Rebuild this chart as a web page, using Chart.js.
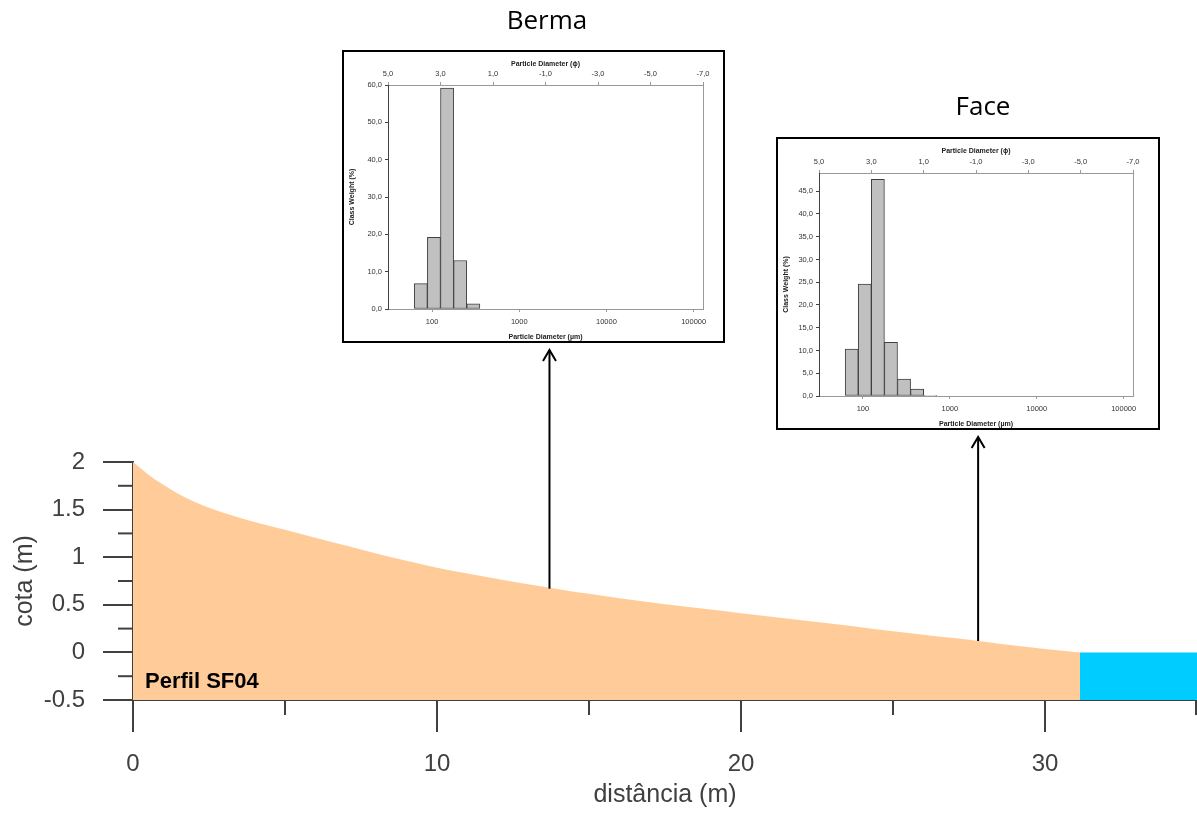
<!DOCTYPE html>
<html>
<head>
<meta charset="utf-8">
<script src="https://cdn.jsdelivr.net/npm/chart.js@4.4.1/dist/chart.umd.min.js"></script>
<style>
    html, body { margin: 0; padding: 0; background: #fff; }
    #page { position: relative; width: 1197px; height: 813px; overflow: hidden; }
    #mainChart { position: absolute; left: 0; top: 0; }
    .inset { position: absolute; box-sizing: border-box; border: 2px solid #000; background: #fff; }
    .inset canvas { display: block; }
    .title { position: absolute; width: 200px; text-align: center; font-family: "Open Sans", sans-serif; font-size: 26px; line-height: 26px; color: #000; }
    #perfil { position: absolute; left: 145px; top: 668px; font-family: "Liberation Sans", Arial, sans-serif; font-weight: bold; font-size: 22px; line-height: 26px; color: #000; }
</style>
</head>
<body>
<div id="page">
    <canvas id="mainChart" width="1197" height="813"></canvas>
    <div id="perfil">Perfil SF04</div>
    <div class="title" style="left:447px; top:6px;">Berma</div>
    <div class="title" style="left:883px; top:92px;">Face</div>
    <div class="inset" id="bermaBox" style="left:342px; top:50px; width:383px; height:293px;">
        <canvas id="bermaChart" width="379" height="289"></canvas>
    </div>
    <div class="inset" id="faceBox" style="left:776px; top:137px; width:384px; height:293px;">
        <canvas id="faceChart" width="380" height="289"></canvas>
    </div>
</div>
<script>
// Beach profile (distance in m, elevation in m)
const profileDist = [0, 0.5, 1, 1.5, 2, 2.5, 3, 4, 5, 6, 7, 8, 9, 10, 11, 12, 13, 14, 15, 16, 17, 18, 19, 20, 21, 22, 23, 24, 25, 26, 27, 28, 29, 30, 31.15];
const profileCota = [2.0, 1.87, 1.76, 1.665, 1.585, 1.52, 1.465, 1.37, 1.288, 1.205, 1.122, 1.04, 0.962, 0.89, 0.83, 0.772, 0.717, 0.664, 0.615, 0.57, 0.528, 0.488, 0.45, 0.412, 0.375, 0.338, 0.30, 0.262, 0.222, 0.185, 0.15, 0.112, 0.072, 0.035, 0.0];
const waterDist = [31.15, 35];
const waterCota = [0, 0];

// Main chart ticks
const distMajor = [0, 10, 20, 30];
const distMinor = [5, 15, 25, 35];
const cotaMajor = [-0.5, 0, 0.5, 1, 1.5, 2];
const cotaMinor = [-0.25, 0.25, 0.75, 1.25, 1.75];

// Grain size histograms (class centres in phi, weight in %)
const phiBins = [3.75, 3.25, 2.75, 2.25, 1.75, 1.25, 0.75];
const bermaWeight = [6.8, 19.2, 59.2, 13.0, 1.4];
const faceWeight = [10.3, 24.6, 47.6, 11.8, 3.7, 1.5, 0.15];

const phiTicks = [5, 3, 1, -1, -3, -5, -7];
const micronTicks = [100, 1000, 10000, 100000];
const bermaYTicks = [0, 10, 20, 30, 40, 50, 60];
const faceYTicks = [0, 5, 10, 15, 20, 25, 30, 35, 40, 45];

// Sample locations along the profile (arrows)
const samples = [
    { dist: 13.7, cota: 0.67, box: 'bermaBox' },
    { dist: 27.8, cota: 0.12, box: 'faceBox' }
];

const axisColor = '#404040';
const mainFont = '"Liberation Sans", Arial, sans-serif';

function setTicks(list) {
    return function(scale) {
        scale.ticks = list.map(v => ({ value: v }));
    };
}

function comma(v) {
    return v.toFixed(1).replace('.', ',');
}

// Minor ticks + arrows for the main chart
const mainExtras = {
    id: 'mainExtras',
    afterDraw(chart) {
        const ctx = chart.ctx;
        const area = chart.chartArea;
        const xs = chart.scales.x;
        const ys = chart.scales.y;
        ctx.save();
        ctx.strokeStyle = axisColor;
        ctx.lineWidth = 2;
        distMinor.forEach(v => {
            const px = Math.min(xs.getPixelForValue(v), area.right - 1);
            ctx.beginPath();
            ctx.moveTo(px, area.bottom);
            ctx.lineTo(px, area.bottom + 15);
            ctx.stroke();
        });
        cotaMinor.forEach(v => {
            const py = ys.getPixelForValue(v);
            ctx.beginPath();
            ctx.moveTo(area.left - 15, py);
            ctx.lineTo(area.left, py);
            ctx.stroke();
        });

        ctx.strokeStyle = '#000';
        ctx.lineWidth = 2;
        samples.forEach(s => {
            const px = xs.getPixelForValue(s.dist);
            const bottom = ys.getPixelForValue(s.cota);
            const box = document.getElementById(s.box);
            const tip = box.offsetTop + box.offsetHeight + 7;
            ctx.beginPath();
            ctx.moveTo(px, bottom);
            ctx.lineTo(px, tip);
            ctx.stroke();
            ctx.beginPath();
            ctx.moveTo(px - 6.5, tip + 11);
            ctx.lineTo(px, tip);
            ctx.lineTo(px + 6.5, tip + 11);
            ctx.stroke();
        });
        ctx.restore();
    }
};

new Chart(document.getElementById('mainChart'), {
    type: 'line',
    data: {
        datasets: [{
            data: profileDist.map((d, i) => ({ x: d, y: profileCota[i] })),
            backgroundColor: '#FFCC99',
            borderWidth: 0,
            pointRadius: 0,
            fill: 'start',
            cubicInterpolationMode: 'monotone'
        }, {
            data: waterDist.map((d, i) => ({ x: d, y: waterCota[i] })),
            backgroundColor: '#00CCFF',
            borderWidth: 0,
            pointRadius: 0,
            fill: 'start'
        }]
    },
    options: {
        responsive: false,
        animation: false,
        layout: { padding: { top: 462, left: 0, right: 0, bottom: 0 } },
        plugins: { legend: { display: false }, tooltip: { enabled: false } },
        scales: {
            x: {
                type: 'linear',
                min: 0,
                max: 35,
                z: 1,
                afterBuildTicks: setTicks(distMajor),
                afterFit(scale) { scale.height = 113; },
                grid: { drawOnChartArea: false, tickLength: 32, color: axisColor, lineWidth: 2 },
                border: { color: axisColor, width: 2 },
                ticks: { padding: 18, color: axisColor, font: { family: mainFont, size: 24 }, maxRotation: 0, callback: v => String(v) },
                title: { display: true, text: 'distância (m)', color: axisColor, padding: { top: 0, bottom: 3 }, font: { family: mainFont, size: 25 } }
            },
            y: {
                type: 'linear',
                min: -0.5,
                max: 2,
                z: 1,
                afterBuildTicks: setTicks(cotaMajor),
                afterFit(scale) { scale.width = 133; },
                grid: { drawOnChartArea: false, tickLength: 30, color: axisColor, lineWidth: 2 },
                border: { color: axisColor, width: 2 },
                ticks: { padding: 18, color: axisColor, font: { family: mainFont, size: 24 }, callback: v => String(v) },
                title: { display: true, text: 'cota (m)', color: axisColor, padding: { top: 10, bottom: 0 }, font: { family: mainFont, size: 25 } }
            }
        }
    },
    plugins: [mainExtras]
});

// Right edge of the inset plot frame
const insetFrame = {
    id: 'insetFrame',
    afterDraw(chart) {
        const a = chart.chartArea;
        const ctx = chart.ctx;
        ctx.save();
        ctx.strokeStyle = '#999';
        ctx.lineWidth = 1;
        ctx.beginPath();
        ctx.moveTo(a.right + 0.5, a.top);
        ctx.lineTo(a.right + 0.5, a.bottom);
        ctx.stroke();
        ctx.restore();
    }
};

function makeInset(id, weights, yMax, yTicks, leftW, topH, padRight) {
    const tickFont = { family: mainFont, size: 7.5 };
    const titleFont = { family: mainFont, size: 7, weight: 'bold' };
    return new Chart(document.getElementById(id), {
        type: 'bar',
        data: {
            datasets: [{
                data: weights.map((w, i) => ({ x: phiBins[i], y: w })),
                backgroundColor: '#C0C0C0',
                borderColor: '#404040',
                borderWidth: 1,
                borderSkipped: false,
                barPercentage: 1,
                categoryPercentage: 1,
                xAxisID: 'phi',
                yAxisID: 'y'
            }]
        },
        options: {
            responsive: false,
            animation: false,
            layout: { padding: { top: 0, left: 0, right: padRight, bottom: 0 } },
            plugins: { legend: { display: false }, tooltip: { enabled: false } },
            scales: {
                phi: {
                    type: 'linear',
                    position: 'top',
                    min: -7,
                    max: 5,
                    reverse: true,
                    offset: false,
                    afterBuildTicks: setTicks(phiTicks),
                    afterFit(scale) { scale.height = topH; },
                    grid: { drawOnChartArea: false, offset: false, tickLength: 3, color: '#999' },
                    border: { color: '#999' },
                    ticks: { padding: 4, color: '#333', font: tickFont, callback: v => comma(v), maxRotation: 0 },
                    title: { display: true, text: 'Particle Diameter (ϕ)', color: '#222', padding: { top: 8, bottom: 0 }, font: titleFont }
                },
                um: {
                    type: 'logarithmic',
                    position: 'bottom',
                    min: 31.25,
                    max: 128000,
                    offset: false,
                    afterBuildTicks: setTicks(micronTicks),
                    afterFit(scale) { scale.height = 32; },
                    grid: { drawOnChartArea: false, offset: false, tickLength: 3, color: '#999' },
                    border: { color: '#999' },
                    ticks: { padding: 5, color: '#333', font: tickFont, callback: v => String(v), maxRotation: 0 },
                    title: { display: true, text: 'Particle Diameter (µm)', color: '#222', padding: { top: 0, bottom: 0 }, font: titleFont }
                },
                y: {
                    type: 'linear',
                    min: 0,
                    max: yMax,
                    bounds: 'data',
                    afterBuildTicks: setTicks(yTicks),
                    afterFit(scale) { scale.width = leftW; },
                    grid: { drawOnChartArea: false, tickLength: 3, color: '#404040' },
                    border: { color: '#404040' },
                    ticks: { padding: 3, color: '#333', font: tickFont, callback: v => comma(v) },
                    title: { display: true, text: 'Class Weight (%)', color: '#222', padding: { top: 4, bottom: 0 }, font: titleFont }
                }
            }
        },
        plugins: [insetFrame]
    });
}

makeInset('bermaChart', bermaWeight, 60, bermaYTicks, 44, 33, 20);
makeInset('faceChart', faceWeight, 49, faceYTicks, 41, 34, 25);
</script>
</body>
</html>
